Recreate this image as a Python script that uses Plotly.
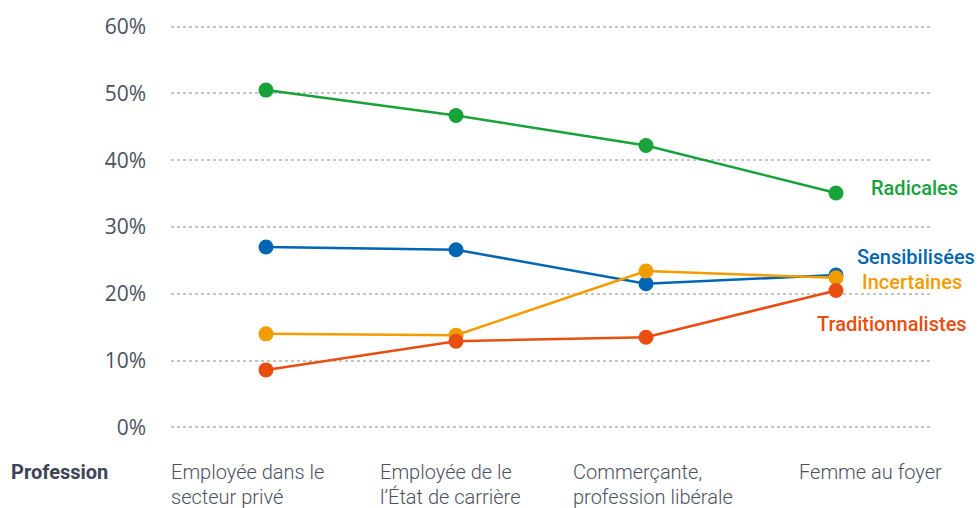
import plotly.graph_objects as go

categories_line1 = ["Employée dans le", "Employée de le", "Commerçante,", "Femme au foyer"]
categories_line2 = ["secteur privé", "l’État de carrière", "profession libérale", ""]
series_names = ["Radicales", "Sensibilisées", "Incertaines", "Traditionnalistes"]
radicales = [50.5, 46.7, 42.2, 35.1]
sensibilisees = [27.0, 26.6, 21.5, 22.8]
incertaines = [14.0, 13.8, 23.4, 22.4]
traditionnalistes = [8.6, 12.9, 13.5, 20.5]
colors = ["#17a23a", "#0066b3", "#f39c00", "#e84e10"]
y_ticks = [0, 10, 20, 30, 40, 50, 60]
y_ticklabels = ["0%", "10%", "20%", "30%", "40%", "50%", "60%"]

FONT = "Roboto, sans-serif"
TICKFONT = "Open Sans, sans-serif"
TEXT = "#4a5163"

fig = go.Figure()
xs = list(range(len(categories_line1)))
for name, vals, col in zip(series_names, [radicales, sensibilisees, incertaines, traditionnalistes], colors):
    fig.add_trace(go.Scatter(x=xs, y=vals, mode="lines+markers", name=name,
                             line=dict(color=col, width=2.5),
                             marker=dict(color=col, size=15), hoverinfo="skip"))

# series labels at right
label_pos = {"Radicales": (0.978, 35.9), "Sensibilisées": (0.980, 25.5),
             "Incertaines": (0.975, 21.8), "Traditionnalistes": (0.949, 15.5)}
for name, col in zip(series_names, colors):
    px, py = label_pos[name]
    fig.add_annotation(x=px, y=py, xref="paper", yref="y", text=name, showarrow=False,
                       xanchor="center", yanchor="middle",
                       font=dict(family=FONT, size=20, color=col, weight=500))

# category labels (two lines each)
cat_x = [-0.003, 0.272, 0.526, 0.824]
for cx, l1, l2 in zip(cat_x, categories_line1, categories_line2):
    fig.add_annotation(x=cx, y=-0.092, xref="paper", yref="paper", text=l1, showarrow=False,
                       xanchor="left", yanchor="middle", align="left",
                       font=dict(family=FONT, size=20, color=TEXT, weight=300))
    if l2:
        fig.add_annotation(x=cx, y=-0.152, xref="paper", yref="paper", text=l2, showarrow=False,
                           xanchor="left", yanchor="middle", align="left",
                           font=dict(family=FONT, size=20, color=TEXT, weight=300))
fig.add_annotation(x=-0.213, y=-0.092, xref="paper", yref="paper", text="<b>Profession</b>",
                   showarrow=False, xanchor="left", yanchor="middle",
                   font=dict(family=FONT, size=20, color="#3d4455"))

fig.update_layout(
    width=979, height=508, paper_bgcolor="white", plot_bgcolor="white",
    margin=dict(l=171, r=48, t=18, b=74), showlegend=False,
    font=dict(family=FONT, color=TEXT),
)
fig.update_xaxes(range=[-0.5, 3.5], showgrid=False, showticklabels=False, zeroline=False,
                 showline=False, fixedrange=True)
fig.update_yaxes(range=[-1, 61], tickvals=y_ticks, ticktext=y_ticklabels, showgrid=True,
                 gridcolor="#c4c4c4", griddash="dot", gridwidth=1.5, zeroline=False,
                 showline=False, ticklabelstandoff=24,
                 tickfont=dict(family=TICKFONT, size=21, color=TEXT))

fig.write_html("out.html", config={"displayModeBar": False},
               post_script="document.body.style.margin='0px';")
